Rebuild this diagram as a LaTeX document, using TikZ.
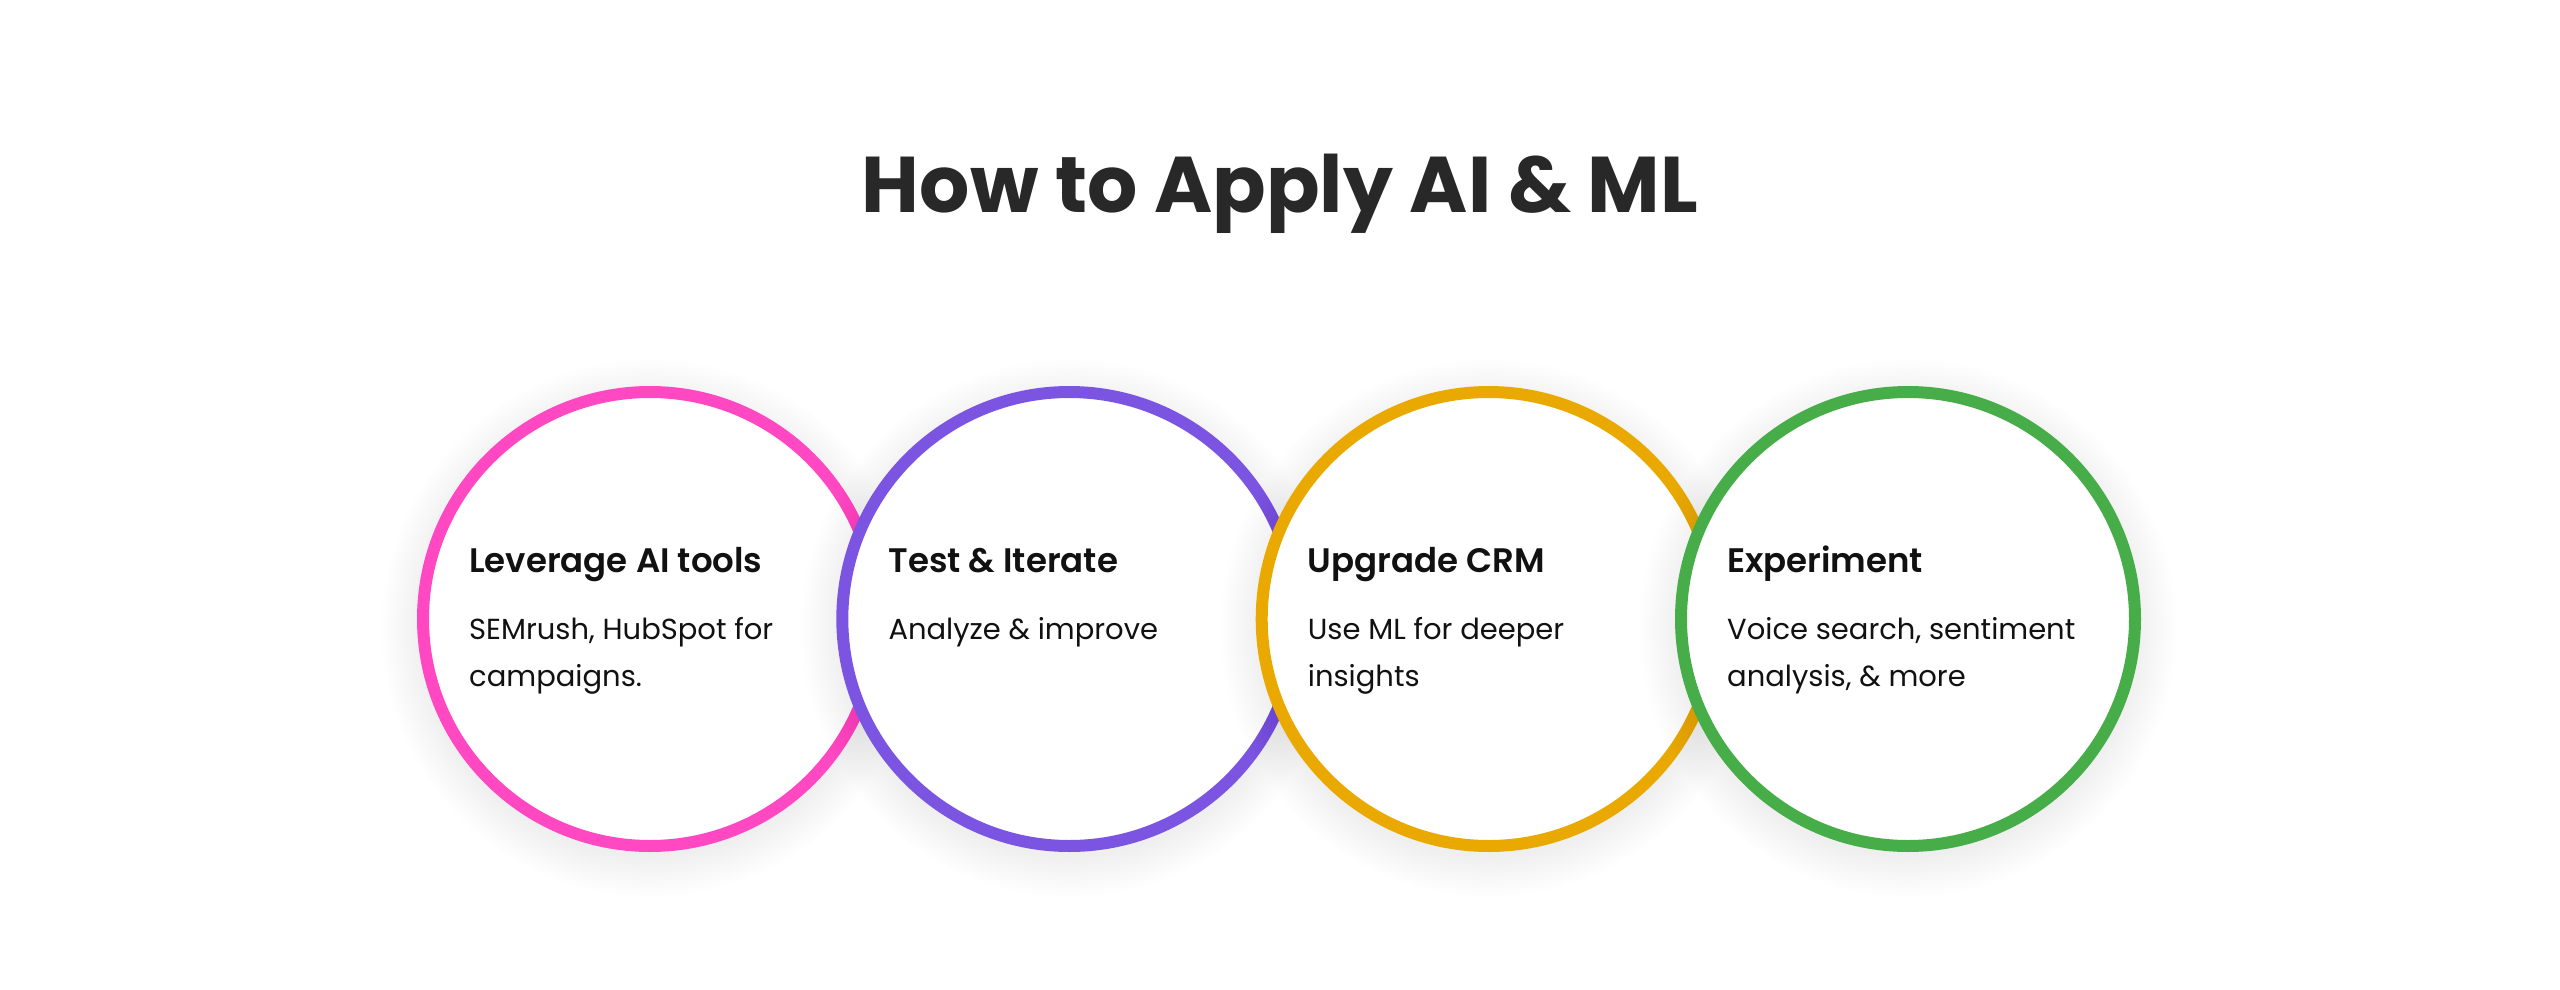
\documentclass[tikz,border=0pt]{standalone}
\usepackage{fontspec}
\setmainfont{Poppins}[BoldFont={Poppins SemiBold}]
\newfontfamily\ttlfont{Poppins Bold}
\usetikzlibrary{positioning}
\definecolor{cpink}{HTML}{FF48C2}
\definecolor{cpurple}{HTML}{7B55E2}
\definecolor{cgold}{HTML}{E9A900}
\definecolor{cgreen}{HTML}{46AD48}
\definecolor{ctitle}{HTML}{282828}
\definecolor{ctext}{HTML}{111111}
\tikzset{
  ring/.style={fill=white, line width=12pt, circle, minimum size=454pt, inner sep=0pt},
  ttl/.style={anchor=base, inner sep=0pt, text=ctitle, font=\ttlfont\fontsize{79}{84}\selectfont},
  head/.style={anchor=base west, inner sep=0pt, text=ctext, font=\fontsize{34}{38}\selectfont\bfseries},
  body/.style={anchor=base west, inner sep=0pt, text=ctext, font=\fontsize{29}{47}\selectfont},
}
\newcommand{\shadowring}[2]{%
  \foreach \k in {1,...,16}{%
    \fill[black, opacity=0.005] (#1,#2+9) circle ({227+\k*2.6});
  }%
}
\newcommand{\twolines}[2]{\vtop{\hbox{#1}\hbox{#2}}}
\begin{document}
\begin{tikzpicture}[x=1pt,y=-1pt]
\useasboundingbox (0,0) rectangle (2560,990);
\fill[white] (0,0) rectangle (2560,990);
\node[ttl] (title) at (1280,212) {How to Apply AI \& ML};

% circle 1
\shadowring{650}{619}
\node[ring, draw=cpink] (c1) at (650,619) {};
\node[head] (h1) at (469,572) {Leverage AI tools};
\node[body] (b1) at (469,639) {\twolines{SEMrush, HubSpot for}{campaigns.}};

% circle 2
\shadowring{1069.3}{619}
\node[ring, draw=cpurple] (c2) at (1069.3,619) {};
\node[head] (h2) at (888.3,572) {Test \& Iterate};
\node[body] (b2) at (888.3,639) {Analyze \& improve};

% circle 3
\shadowring{1488.7}{619}
\node[ring, draw=cgold] (c3) at (1488.7,619) {};
\node[head] (h3) at (1307.7,572) {Upgrade CRM};
\node[body] (b3) at (1307.7,639) {\twolines{Use ML for deeper}{insights}};

% circle 4
\shadowring{1908}{619}
\node[ring, draw=cgreen] (c4) at (1908,619) {};
\node[head] (h4) at (1727,572) {Experiment};
\node[body] (b4) at (1727,639) {\twolines{Voice search, sentiment}{analysis, \& more}};
\end{tikzpicture}
\end{document}
